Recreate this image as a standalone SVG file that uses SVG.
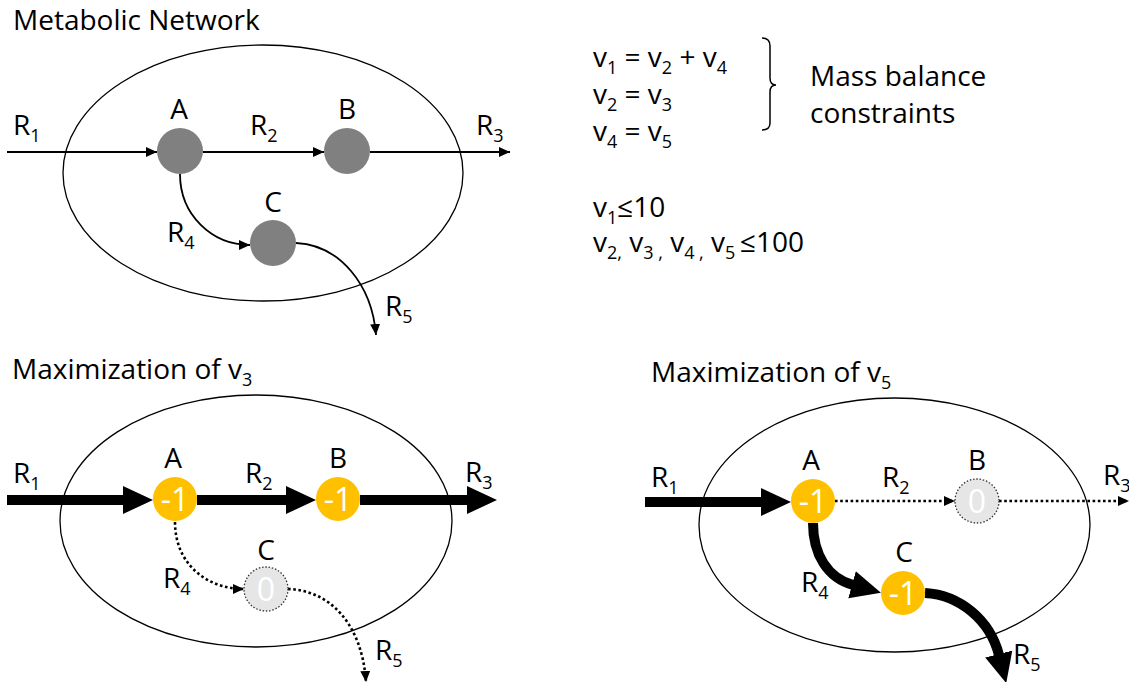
<svg xmlns="http://www.w3.org/2000/svg" width="1129" height="682" viewBox="0 0 1129 682">
<style>
text{font-family:"Open Sans","Noto Sans","Liberation Sans",sans-serif;font-size:28px;fill:#000}
.s{font-size:18px}
.c{text-anchor:middle}
.nt{font-size:32px;fill:#fff;text-anchor:middle}
.cell{fill:none;stroke:#000;stroke-width:1.3}
.thin{fill:none;stroke:#000;stroke-width:1.8}
.thick{fill:none;stroke:#000;stroke-width:10}
.dot{fill:none;stroke:#000;stroke-width:2.6;stroke-dasharray:2.6 2.6}
.gray{fill:#808080}
.org{fill:#FFC000}
.off{fill:#e6e6e6;stroke:#333;stroke-width:1.3;stroke-dasharray:1.5 1.8}
</style>
<defs>
<marker id="ah" markerUnits="userSpaceOnUse" markerWidth="12" markerHeight="10" refX="11" refY="5" orient="auto"><path d="M0,0 L11,5 L0,10 z" fill="#000"/></marker>
<marker id="big" markerUnits="userSpaceOnUse" markerWidth="31" markerHeight="30" refX="1" refY="15" orient="auto"><path d="M0,1 L30,15 L0,29 z" fill="#000"/></marker>
</defs>

<g id="titles">
<text x="13" y="30">Metabolic Network</text>
<text x="12" y="379">Maximization of v<tspan class="s" dy="7">3</tspan></text>
<text x="651" y="382">Maximization of v<tspan class="s" dy="7">5</tspan></text>
</g>

<g id="equations">
<text x="593" y="67">v<tspan class="s" dy="7">1</tspan><tspan dy="-7"> = v</tspan><tspan class="s" dy="7">2</tspan><tspan dy="-7"> + v</tspan><tspan class="s" dy="7">4</tspan></text>
<text x="593" y="104">v<tspan class="s" dy="7">2</tspan><tspan dy="-7"> = v</tspan><tspan class="s" dy="7">3</tspan></text>
<text x="593" y="141">v<tspan class="s" dy="7">4</tspan><tspan dy="-7"> = v</tspan><tspan class="s" dy="7">5</tspan></text>
<path d="M762,38 Q770,38 770,46 L770,78 Q770,85 776,85 Q770,85 770,92 L770,123 Q770,130 762,130" fill="none" stroke="#000" stroke-width="1.5"/>
<text x="810" y="86">Mass balance</text>
<text x="810" y="123">constraints</text>
<text x="593" y="217">v<tspan class="s" dy="7">1</tspan><tspan dy="-7">≤10</tspan></text>
<text x="593" y="252">v<tspan class="s" dy="7">2,</tspan><tspan dy="-7"> v</tspan><tspan class="s" dy="7">3 ,</tspan><tspan dy="-7"> v</tspan><tspan class="s" dy="7">4 ,</tspan><tspan dy="-7"> v</tspan><tspan class="s" dy="7">5 </tspan><tspan dy="-7">≤100</tspan></text>
</g>

<g id="cells">
<ellipse class="cell" cx="263" cy="173" rx="200" ry="128"/>
<ellipse class="cell" cx="256" cy="521" rx="196" ry="126"/>
<ellipse class="cell" cx="894.5" cy="525" rx="195.5" ry="127"/>
</g>

<g id="connectors">
<path class="thin" d="M7,152 L157,152" marker-end="url(#ah)"/>
<path class="thin" d="M203,152 L324,152" marker-end="url(#ah)"/>
<path class="thin" d="M370,152 L510,152" marker-end="url(#ah)"/>
<path class="thin" d="M180,174 C180,215 212,245 250,245" marker-end="url(#ah)"/>
<path class="thin" d="M296,243 C340,245 372,285 376,335" marker-end="url(#ah)"/>

<path class="thick" d="M7,500 L124,500" marker-end="url(#big)"/>
<path class="thick" d="M197,500 L287,500" marker-end="url(#big)"/>
<path class="thick" d="M360,500 L468,500" marker-end="url(#big)"/>
<path class="dot" d="M175,522 C175,565 208,589 244,589" marker-end="url(#ah)"/>
<path class="dot" d="M288,589 C328,590 362,622 366,682" marker-end="url(#ah)"/>

<path class="thick" d="M645,502 L762,502" marker-end="url(#big)"/>
<path class="dot" d="M835,501 L955,501" marker-end="url(#ah)"/>
<path class="dot" d="M999,501 L1129,501" marker-end="url(#ah)"/>
<path class="thick" d="M813,523 C813,555 828,578 853,585" marker-end="url(#big)"/>
<path class="thick" d="M925,593 C960,595 990,620 999,655" marker-end="url(#big)"/>
</g>

<g id="top-A"><circle class="gray" cx="180" cy="151" r="23"/><text class="c" x="179" y="119">A</text></g>
<g id="top-B"><circle class="gray" cx="347" cy="151" r="23"/><text class="c" x="347" y="119">B</text></g>
<g id="top-C"><circle class="gray" cx="273" cy="243" r="23"/><text class="c" x="273" y="212">C</text></g>
<g id="top-labels">
<text x="13" y="135">R<tspan class="s" dy="7">1</tspan></text>
<text x="250" y="135">R<tspan class="s" dy="7">2</tspan></text>
<text x="476" y="135">R<tspan class="s" dy="7">3</tspan></text>
<text x="167" y="242">R<tspan class="s" dy="7">4</tspan></text>
<text x="385" y="316">R<tspan class="s" dy="7">5</tspan></text>
</g>

<g id="v3-A"><circle class="org" cx="175" cy="499" r="22"/><text class="nt" x="175" y="511">-1</text><text class="c" x="173" y="468">A</text></g>
<g id="v3-B"><circle class="org" cx="338" cy="499" r="22"/><text class="nt" x="338" y="511">-1</text><text class="c" x="338" y="468">B</text></g>
<g id="v3-C"><circle class="off" cx="266" cy="589" r="22"/><text class="nt" x="266" y="601">0</text><text class="c" x="266" y="560">C</text></g>
<g id="v3-labels">
<text x="13" y="483">R<tspan class="s" dy="7">1</tspan></text>
<text x="245" y="483">R<tspan class="s" dy="7">2</tspan></text>
<text x="465" y="482">R<tspan class="s" dy="7">3</tspan></text>
<text x="163" y="588">R<tspan class="s" dy="7">4</tspan></text>
<text x="375" y="660">R<tspan class="s" dy="7">5</tspan></text>
</g>

<g id="v5-A"><circle class="org" cx="813" cy="501" r="22"/><text class="nt" x="813" y="513">-1</text><text class="c" x="811" y="470">A</text></g>
<g id="v5-B"><circle class="off" cx="977" cy="501" r="22"/><text class="nt" x="977" y="513">0</text><text class="c" x="977" y="470">B</text></g>
<g id="v5-C"><circle class="org" cx="903" cy="593" r="22"/><text class="nt" x="903" y="605">-1</text><text class="c" x="904" y="562">C</text></g>
<g id="v5-labels">
<text x="651" y="487">R<tspan class="s" dy="7">1</tspan></text>
<text x="882" y="487">R<tspan class="s" dy="7">2</tspan></text>
<text x="1103" y="485">R<tspan class="s" dy="7">3</tspan></text>
<text x="801" y="592">R<tspan class="s" dy="7">4</tspan></text>
<text x="1013" y="664">R<tspan class="s" dy="7">5</tspan></text>
</g>
</svg>
